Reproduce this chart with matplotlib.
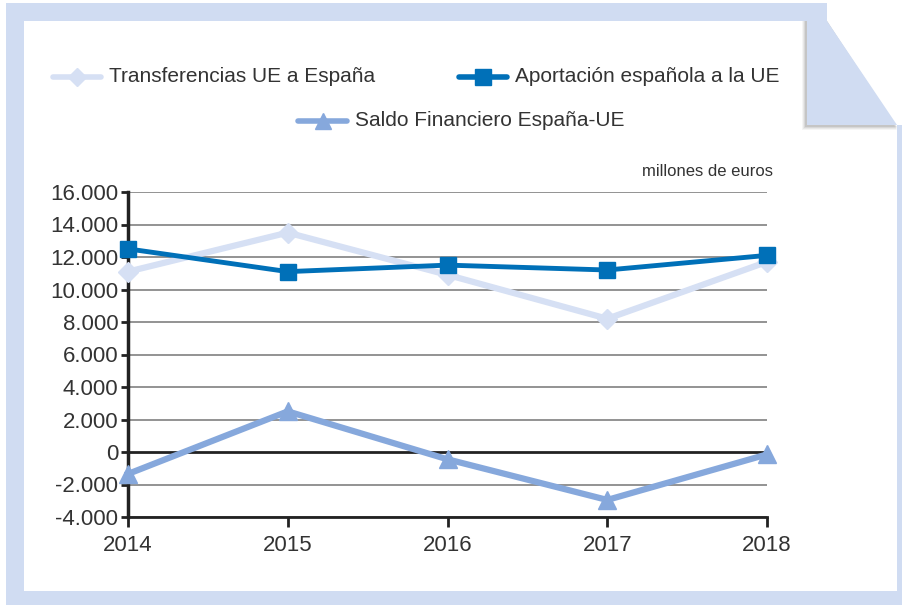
import matplotlib
matplotlib.use("Agg")
import matplotlib.pyplot as plt
from matplotlib.patches import Polygon, Rectangle
from matplotlib.lines import Line2D

# data (millones de euros)
years = [2014, 2015, 2016, 2017, 2018]
transferencias = [11100, 13500, 10900, 8200, 11700]
aportacion = [12500, 11100, 11500, 11200, 12100]
saldo = [-1350, 2500, -450, -2950, -150]
yticks = list(range(-4000, 16001, 2000))

c_frame = "#d0dcf2"
c_transf = "#d6e0f4"
c_aport = "#0070b8"
c_saldo = "#86a8dc"
c_text = "#333333"

plt.rcParams["font.family"] = ["Liberation Sans", "DejaVu Sans"]

fig = plt.figure(figsize=(9.02, 6.07), dpi=100)
fig.patch.set_facecolor("white")

# background frame drawn in pixel coordinates
bg = fig.add_axes([0, 0, 1, 1], zorder=-1)
bg.set_xlim(0, 902)
bg.set_ylim(607, 0)
bg.axis("off")
bg.add_patch(Polygon([(6, 3), (815, 3), (897, 125), (902, 125), (902, 605), (6, 605)],
                     closed=True, fc=c_frame, ec="none"))
bg.add_patch(Rectangle((24, 21), 873, 570, fc="white", ec="none"))
# folded corner with soft shadow
for i, a in enumerate([0.05, 0.07, 0.09, 0.12]):
    off = 5 - i
    bg.add_patch(Polygon([(807 - off, 21), (827, 21), (897, 125 + off), (807 - off, 125 + off)],
                         closed=True, fc="#404040", alpha=a, ec="none"))
bg.add_patch(Polygon([(807, 21), (827, 21), (897, 125), (807, 125)],
                     closed=True, fc=c_frame, ec="none"))
bg.add_patch(Rectangle((807, 3), 20, 18, fc=c_frame, ec="none"))

# legend drawn by hand
def legend_item(x0, x1, y, color, marker, ms, lw, label):
    bg.add_line(Line2D([x0, x1], [y, y], color=color, lw=lw, solid_capstyle="round"))
    bg.plot([(x0 + x1) / 2], [y], marker=marker, color=color, ms=ms, mec=color)
    bg.text(x1 + 8, y, label, fontsize=15, color=c_text, va="center", ha="left")

legend_item(53, 101, 77, c_transf, "D", 9, 4, "Transferencias UE a España")
legend_item(459, 507, 77, c_aport, "s", 11, 4, "Aportación española a la UE")
legend_item(298, 347, 121, c_saldo, "^", 11, 4, "Saldo Financiero España-UE")

ax = fig.add_axes([128 / 902, 1 - 517 / 607, (767 - 128) / 902, (517 - 192) / 607])
ax.set_facecolor("none")

ax.plot(years, transferencias, color=c_transf, lw=4.5, marker="D", ms=10,
        clip_on=False, zorder=3)
ax.plot(years, aportacion, color=c_aport, lw=3.5, marker="s", ms=12,
        clip_on=False, zorder=4)
ax.plot(years, saldo, color=c_saldo, lw=4.5, marker="^", ms=13,
        clip_on=False, zorder=3)

ax.set_xlim(2014, 2018)
ax.set_ylim(-4000, 16000)
ax.set_yticks(yticks)
ax.set_yticklabels([f"{v:,}".replace(",", ".") for v in yticks])
ax.set_xticks(years)
ax.set_xticklabels([str(y) for y in years])

for v in yticks:
    if v == 0:
        ax.axhline(v, color="#222222", lw=2, zorder=2)
    else:
        ax.axhline(v, color="#8a8a8a", lw=1.3, zorder=1)

for s in ["top", "right"]:
    ax.spines[s].set_visible(False)
ax.spines["left"].set_linewidth(2.5)
ax.spines["left"].set_color("#222222")
ax.spines["bottom"].set_linewidth(2)
ax.spines["bottom"].set_color("#222222")
ax.tick_params(axis="y", length=5, width=2, color="#222222", labelsize=16,
               labelcolor=c_text, pad=2)
ax.tick_params(axis="x", length=7, width=2, color="#222222", labelsize=16,
               labelcolor=c_text, pad=6)

fig.text(773 / 902, 1 - 172 / 607, "millones de euros", fontsize=12,
         color=c_text, ha="right", va="center")

fig.savefig("out.png", dpi=100)
